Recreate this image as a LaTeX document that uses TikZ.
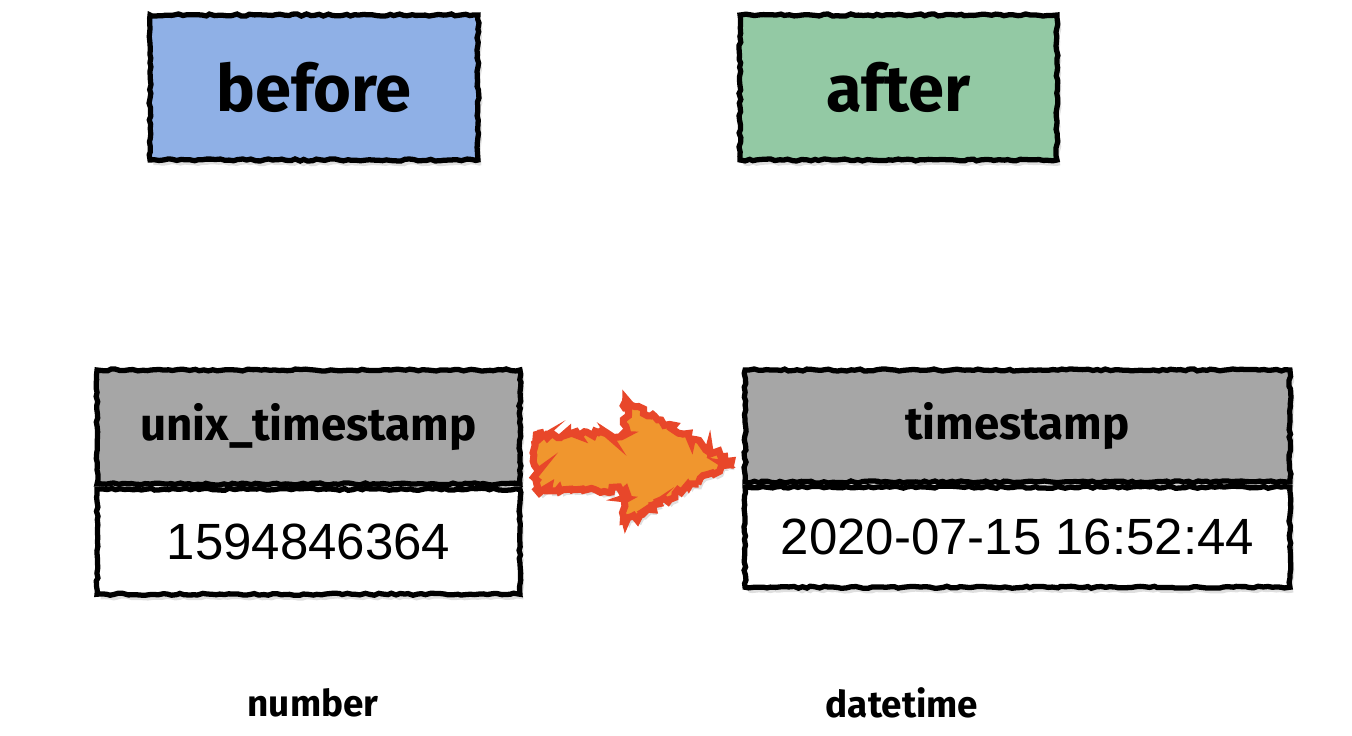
\documentclass[tikz,border=0pt]{standalone}
\usepackage{fontspec}
\setmainfont{Liberation Sans}
\newfontfamily\sketchfont{Fira Sans}
\usepackage{xcolor}
\usepackage{tikz}
\usetikzlibrary{positioning,shapes.arrows,shadows,decorations.pathmorphing}
\definecolor{beforeblue}{HTML}{8FB0E6}
\definecolor{aftergreen}{HTML}{93C9A4}
\definecolor{headgray}{HTML}{A6A6A6}
\definecolor{flameorange}{HTML}{F0962E}
\definecolor{flamered}{HTML}{E8472A}
\tikzset{
sketch/.style={
draw=black,
line width=3pt,
decorate,
decoration={random steps,segment length=2.5pt,amplitude=0.6pt},
drop shadow={opacity=0.25,shadow xshift=2pt,shadow yshift=-3pt}
},
tag/.style={
sketch,
minimum height=2.9cm,
inner sep=0pt,
font=\sketchfont\bfseries\fontsize{37}{40}\selectfont
},
colhead/.style={
sketch,
fill=headgray,
inner sep=0pt,
font=\sketchfont\bfseries\fontsize{26}{30}\selectfont
},
colbody/.style={
sketch,
fill=white,
inner sep=0pt,
font=\fontsize{29}{34}\selectfont
},
typename/.style={
font=\sketchfont\bfseries\fontsize{21}{24}\selectfont
},
flame/.style={
single arrow,
fill=flameorange,
draw=flamered,
line width=4pt,
decorate,
decoration={random steps,segment length=2pt,amplitude=2pt},
drop shadow={opacity=0.25,shadow xshift=2pt,shadow yshift=-3pt},
inner xsep=0pt,
inner ysep=0.48cm,
single arrow head extend=0.67cm,
single arrow tip angle=60,
minimum height=3.9cm
}
}

\begin{document}
\pgfmathsetseed{7}
\begin{tikzpicture}[x=0.02cm,y=-0.02cm]
\useasboundingbox (0,0) rectangle (1352,736);

\node[tag,fill=beforeblue,minimum width=6.56cm](before) at (314,87.5){before};
\node[tag,fill=aftergreen,minimum width=6.34cm](after) at (898.5,87.5){after};

% source column
\node[colhead,minimum width=8.46cm,minimum height=2.28cm](srchead) at (308.5,427){unix\_timestamp};
\node[colbody,minimum width=8.46cm,minimum height=2.1cm,below=0pt of srchead](srcbody){1594846364};

% target column
\node[colhead,minimum width=10.9cm,minimum height=2.24cm](dsthead) at (1017.5,426){timestamp};
\node[colbody,minimum width=10.9cm,minimum height=2.0cm,below=0pt of dsthead](dstbody){2020-07-15 16:52:44};

\node[flame](conv) at (610,462){};

\node[typename](number) at (313,703){number};
\node[typename](datetime) at (902,703){datetime};
\end{tikzpicture}
\end{document}
